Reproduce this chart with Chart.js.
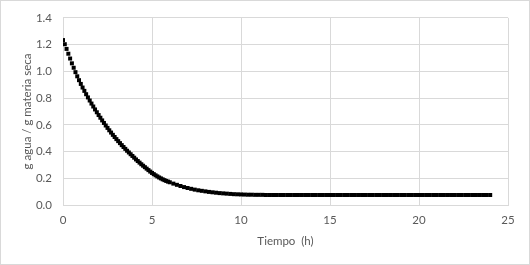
<!DOCTYPE html>
<html>
<head>
<meta charset="utf-8">
<script src="https://cdn.jsdelivr.net/npm/chart.js@4/dist/chart.umd.min.js"></script>
<style>
  html, body { margin: 0; padding: 0; background: #fff; }
  canvas { display: block; }
</style>
</head>
<body>
<canvas id="secado" width="530" height="265"></canvas>
<script>
// tiempo (h)
var tiempo = [
  0, 0.1, 0.2, 0.3, 0.4, 0.5, 0.6, 0.7, 0.8, 0.9,
  1.0, 1.1, 1.2, 1.3, 1.4, 1.5, 1.6, 1.7, 1.8, 1.9,
  2.0, 2.1, 2.2, 2.3, 2.4, 2.5, 2.6, 2.7, 2.8, 2.9,
  3.0, 3.1, 3.2, 3.3, 3.4, 3.5, 3.6, 3.7, 3.8, 3.9,
  4.0, 4.1, 4.2, 4.3, 4.4, 4.5, 4.6, 4.7, 4.8, 4.9,
  5.0, 5.1, 5.2, 5.3, 5.4, 5.5, 5.6, 5.7, 5.8, 5.9,
  6.0,
  6.2, 6.4, 6.6, 6.8, 7.0, 7.2, 7.4, 7.6, 7.8, 8.0,
  8.2, 8.4, 8.6, 8.8, 9.0, 9.2, 9.4, 9.6, 9.8, 10.0,
  10.2, 10.4, 10.6, 10.8, 11.0, 11.2, 11.4, 11.6, 11.8, 12.0,
  12.2, 12.4, 12.6, 12.8, 13.0, 13.2, 13.4, 13.6, 13.8, 14.0,
  14.2, 14.4, 14.6, 14.8, 15.0, 15.2, 15.4, 15.6, 15.8, 16.0,
  16.2, 16.4, 16.6, 16.8, 17.0, 17.2, 17.4, 17.6, 17.8, 18.0,
  18.2, 18.4, 18.6, 18.8, 19.0, 19.2, 19.4, 19.6, 19.8, 20.0,
  20.2, 20.4, 20.6, 20.8, 21.0, 21.2, 21.4, 21.6, 21.8, 22.0,
  22.2, 22.4, 22.6, 22.8, 23.0, 23.2, 23.4, 23.6, 23.8, 24.0
];
// g agua / g materia seca
var humedad = [
  1.234, 1.203, 1.168, 1.132, 1.096, 1.060, 1.027, 0.994, 0.963, 0.934,
  0.906, 0.879, 0.854, 0.829, 0.805, 0.782, 0.759, 0.737, 0.715, 0.694,
  0.673, 0.653, 0.633, 0.614, 0.595, 0.577, 0.559, 0.542, 0.525, 0.509,
  0.493, 0.478, 0.463, 0.448, 0.434, 0.420, 0.406, 0.393, 0.380, 0.367,
  0.354, 0.341, 0.329, 0.317, 0.305, 0.294, 0.283, 0.272, 0.261, 0.250,
  0.240, 0.231, 0.222, 0.214, 0.206, 0.199, 0.192, 0.186, 0.180, 0.175,
  0.170,
  0.160, 0.151, 0.142, 0.134, 0.127, 0.121, 0.115, 0.110, 0.106, 0.102,
  0.098, 0.095, 0.092, 0.089, 0.087, 0.085, 0.083, 0.081, 0.080, 0.079,
  0.078, 0.077, 0.077, 0.076, 0.076, 0.076, 0.075, 0.075, 0.075, 0.075,
  0.075, 0.075, 0.075, 0.075, 0.075, 0.075, 0.075, 0.075, 0.075, 0.075,
  0.075, 0.075, 0.075, 0.075, 0.075, 0.075, 0.075, 0.075, 0.075, 0.075,
  0.075, 0.075, 0.075, 0.075, 0.075, 0.075, 0.075, 0.075, 0.075, 0.075,
  0.075, 0.075, 0.075, 0.075, 0.075, 0.075, 0.075, 0.075, 0.075, 0.075,
  0.075, 0.075, 0.075, 0.075, 0.075, 0.075, 0.075, 0.075, 0.075, 0.075,
  0.075, 0.075, 0.075, 0.075, 0.075, 0.075, 0.075, 0.075, 0.075, 0.075
];
var xTitulo = 'Tiempo  (h)';
var yTitulo = 'g agua / g materia seca';

var puntos = tiempo.map(function (t, i) { return { x: t, y: humedad[i] }; });

var gris = '#d9d9d9';
var texto = '#595959';
var fuente = { family: 'Lato', size: 11.5 };

// fondo blanco y borde del grafico
var marco = {
  id: 'marco',
  beforeDraw: function (chart) {
    var c = chart.ctx;
    c.save();
    c.fillStyle = '#fff';
    c.fillRect(0, 0, chart.width, chart.height);
    c.strokeStyle = gris;
    c.lineWidth = 1;
    c.strokeRect(0.5, 0.5, chart.width - 1, chart.height - 1);
    c.restore();
  }
};

var ctx = document.getElementById('secado').getContext('2d');
var grafico = new Chart(ctx, {
  type: 'scatter',
  data: {
    datasets: [{
      data: puntos,
      pointStyle: 'rect',
      pointRadius: 2.83,
      pointBorderWidth: 0,
      backgroundColor: '#000',
      borderColor: '#000',
      showLine: false
    }]
  },
  options: {
    responsive: false,
    animation: false,
    devicePixelRatio: 1,
    layout: { padding: { left: 0, right: 22, top: 14, bottom: 0 } },
    plugins: {
      legend: { display: false },
      tooltip: { enabled: false }
    },
    scales: {
      x: {
        type: 'linear',
        min: 0,
        max: 25,
        afterFit: function (s) { s.height = 60; },
        ticks: { stepSize: 5, padding: 8, color: texto, font: fuente, maxRotation: 0 },
        grid: { color: gris, drawTicks: false },
        border: { color: gris },
        title: { display: true, text: xTitulo, color: texto, font: fuente, padding: { top: 0, bottom: 17 } }
      },
      y: {
        min: 0,
        max: 1.4,
        afterFit: function (s) { s.width = 63; },
        ticks: {
          stepSize: 0.2,
          padding: 11,
          color: texto,
          font: fuente,
          callback: function (v) { return v.toFixed(1); }
        },
        grid: { color: gris, drawTicks: false },
        border: { color: gris },
        title: { display: true, text: yTitulo, color: texto, font: fuente, padding: { top: 20, bottom: 0 } }
      }
    }
  },
  plugins: [marco]
});
</script>
</body>
</html>
